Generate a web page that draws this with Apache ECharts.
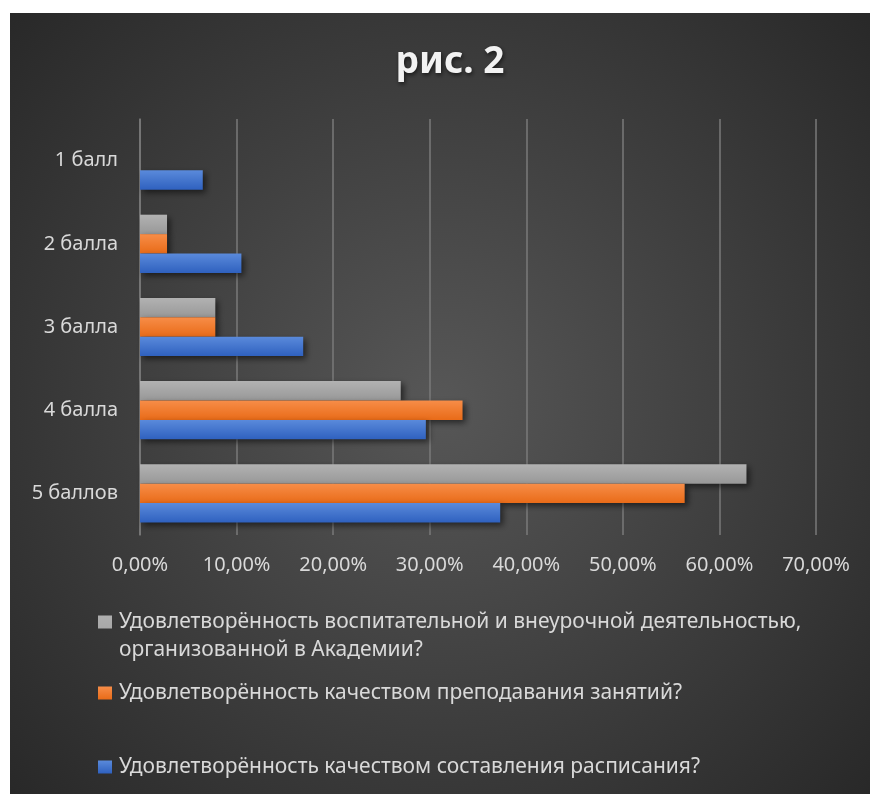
<!DOCTYPE html>
<html>
<head>
<meta charset="utf-8">
<script src="https://cdn.jsdelivr.net/npm/echarts@6/dist/echarts.min.js"></script>
<style>
html,body{margin:0;padding:0;background:#ffffff;width:870px;height:794px;overflow:hidden;}
#chart{position:absolute;left:10px;top:13px;width:860px;height:781px;}
</style>
</head>
<body>
<div id="chart"></div>
<script>
const titleText = 'рис. 2';
const categories = ['1 балл', '2 балла', '3 балла', '4 балла', '5 баллов'];
const seriesNames = [
  'Удовлетворённость воспитательной и внеурочной деятельностью, организованной в Академии?',
  'Удовлетворённость качеством преподавания занятий?',
  'Удовлетворённость качеством составления расписания?'
];
const grayValues = [0, 2.8, 7.8, 27.0, 62.8];
const orangeValues = [0, 2.8, 7.8, 33.4, 56.4];
const blueValues = [6.5, 10.5, 16.9, 29.6, 37.3];
const axisMin = 0, axisMax = 70, axisStep = 10;

const FONT = 'Noto Sans';
function grad(top, bottom) {
  return new echarts.graphic.LinearGradient(0, 0, 0, 1, [
    {offset: 0, color: top}, {offset: 1, color: bottom}
  ]);
}
const palette = [
  ['#b2b2b2', '#989898'],
  ['#f78d48', '#e96b18'],
  ['#5a8adb', '#2f61bf']
];
const valueSets = [grayValues, orangeValues, blueValues];

const chart = echarts.init(document.getElementById('chart'));
const labelColor = '#d9d9d9';

const option = {
  backgroundColor: {
    type: 'radial', x: 0.5, y: 0.5, r: 0.75,
    colorStops: [{offset: 0, color: '#575757'}, {offset: 1, color: '#282828'}]
  },
  animation: false,
  title: {
    text: titleText,
    left: 435, top: 26, textAlign: 'center',
    textStyle: {
      color: '#f2f2f2', fontFamily: FONT, fontWeight: 'bold', fontSize: 37,
      textShadowColor: 'rgba(0,0,0,0.6)', textShadowBlur: 4, textShadowOffsetX: 1, textShadowOffsetY: 2
    }
  },
  grid: {left: 130, right: 54, top: 106, bottom: 259, containLabel: false},
  xAxis: {
    type: 'value', min: axisMin, max: axisMax, interval: axisStep,
    axisLine: {show: false}, axisTick: {show: false},
    splitLine: {show: true, lineStyle: {color: '#7a7a7a', width: 1.5}},
    axisLabel: {
      color: labelColor, fontFamily: FONT, fontSize: 20, margin: 20,
      formatter: v => v.toFixed(2).replace('.', ',') + '%'
    }
  },
  yAxis: {
    type: 'category', data: categories, inverse: true,
    axisLine: {show: true, lineStyle: {color: '#7a7a7a', width: 1.5}},
    axisTick: {show: false},
    axisLabel: {color: labelColor, fontFamily: FONT, fontSize: 20, margin: 22}
  },
  legend: [0, 1, 2].map((i) => ({
    data: [seriesNames[i]],
    orient: 'vertical',
    left: 88,
    top: [595, 666, 740][i],
    padding: 0,
    itemWidth: 14,
    itemHeight: i === 0 ? 56 : 13,
    icon: i === 0 ? 'path://M0,7.5H14V20.5H0Z M0,0H0.01V0.01H0Z M13.99,55.99H14V56H13.99Z' : 'rect',
    itemGap: 0,
    selectedMode: false,
    textStyle: {color: labelColor, fontFamily: FONT, fontSize: 21, lineHeight: 28, padding: [0, 0, 0, 2]},
    formatter: (name) => i === 0
      ? name.replace('деятельностью, ', 'деятельностью,\n')
      : name
  })),
  series: [0, 1, 2].map((i) => ({
    name: seriesNames[i],
    type: 'bar',
    data: valueSets[i],
    barGap: '0%',
    barCategoryGap: '30%',
    itemStyle: {
      color: grad(palette[i][0], palette[i][1]),
      shadowColor: 'rgba(0,0,0,0.55)', shadowBlur: 6, shadowOffsetX: 3, shadowOffsetY: 3
    }
  }))
};
chart.setOption(option);
</script>
</body>
</html>
